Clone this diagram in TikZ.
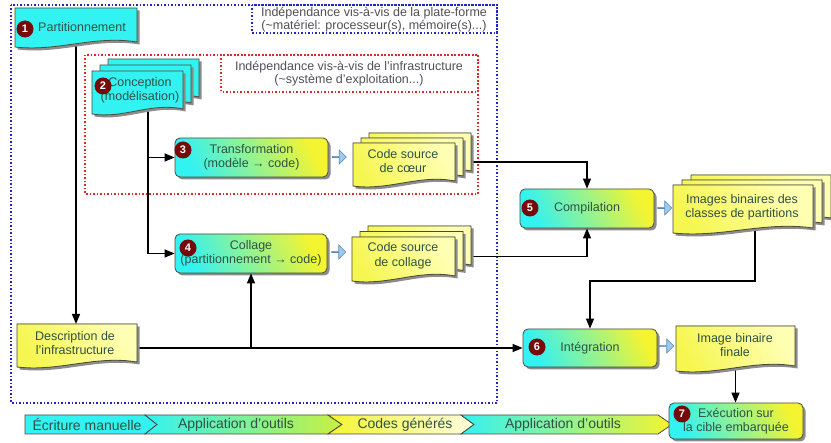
\documentclass[tikz,border=0pt]{standalone}
\usepackage{fontspec}
\setmainfont{Liberation Sans}
\usetikzlibrary{arrows.meta,shapes.arrows,shadows}
\pgfdeclarelayer{paper}
\pgfdeclarelayer{bg}
\pgfsetlayers{paper,bg,main}

\definecolor{cyanf}{HTML}{33F2F2}
\definecolor{greenf}{HTML}{80F070}
\definecolor{yellowf}{HTML}{F4F430}
\definecolor{docy}{HTML}{F6F650}
\definecolor{docyl}{HTML}{FFFFB4}
\definecolor{edge}{HTML}{4A4A38}
\definecolor{txtc}{HTML}{2F5244}
\definecolor{lblc}{HTML}{505058}
\definecolor{badgec}{HTML}{760A0A}
\definecolor{fatf}{HTML}{9CCBF0}
\definecolor{fatd}{HTML}{5C88B0}
\definecolor{frameb}{HTML}{2424C8}
\definecolor{framer}{HTML}{E02828}
\definecolor{cream}{HTML}{FFFFE0}
\definecolor{bandg}{HTML}{C8F040}

% outline of a document sheet: top-left (x1,y1), right edge x2, lowest point of the wavy bottom yb
\newcommand\docp[4]{(#1,#2) -- (#3,#2) -- (#3,#4-6) .. controls ({#1+0.65*(#3-#1)},#4-13) and ({#1+0.35*(#3-#1)},#4+4) .. (#1,#4-1) -- cycle}

% one sheet with its shadow
\newcommand\docpage[5]{%
  \fill[black!45,shift={(2.5,2.5)}] \docp{#1}{#2}{#3}{#4};
  \filldraw[docline,#5] \docp{#1}{#2}{#3}{#4};}

% single document: name, x1, y1, x2, yb, style
\newcommand\doc[6]{%
  \docpage{#2}{#3}{#4}{#5}{#6}
  \node[box,minimum width={#4-#2},minimum height={#5-6-#3}] (#1) at ({(#2+#4)/2},{(#3+#5-6)/2}) {};}

% stack of three documents: name, x1, y1, x2, yb, dx, dy, style
\newcommand\mdoc[8]{%
  \begin{scope}[shift={(2*#6,2*#7)}]\docpage{#2}{#3}{#4}{#5}{#8}\end{scope}
  \begin{scope}[shift={(#6,#7)}]\docpage{#2}{#3}{#4}{#5}{#8}\end{scope}
  \doc{#1}{#2}{#3}{#4}{#5}{#8}}

\tikzset{
  docline/.style={draw=edge,line width=0.8pt},
  box/.style={inner sep=0,outer sep=0},
  cyandoc/.style={fill=cyanf},
  yeldoc/.style={left color=docy,right color=docyl,shading angle=120},
  proc/.style={rounded corners=5pt,draw=edge,line width=0.8pt,
    left color=cyanf,middle color=greenf,right color=yellowf,shading angle=115,
    drop shadow={shadow xshift=2.5pt,shadow yshift=-2.5pt,fill=black,opacity=0.45},
    inner sep=0,align=center,text=txtc,font=\fontsize{12.5}{14}\selectfont},
  txt/.style={font=\fontsize{12.5}{14.5}\selectfont,text=txtc,align=center,inner sep=0},
  lbl/.style={font=\fontsize{12.5}{13.5}\selectfont,text=lblc,align=center,inner sep=0},
  badge/.style={circle,fill=badgec,text=white,font=\fontsize{11}{11}\bfseries\selectfont,
    inner sep=0,minimum size=17pt},
  fat/.style={single arrow,fill=fatf,draw=fatd,line width=0.6pt,minimum height=14pt,
    minimum width=14pt,single arrow head extend=3.5pt,inner sep=0},
  arr/.style={draw=black,line width=1.3pt,-{Triangle[length=10pt,width=8pt]}},
  bframe/.style={draw=frameb,line width=1.5pt,dash pattern=on 1.5pt off 2pt},
  rframe/.style={draw=framer,line width=1.5pt,dash pattern=on 1.5pt off 2pt},
  band/.style={draw=edge,line width=0.8pt},
  bandtxt/.style={font=\fontsize{14}{14}\selectfont,text=txtc,inner sep=0},
}

\begin{document}
\begin{tikzpicture}[x=1pt,y=-1pt]
\begin{pgfonlayer}{paper}
  \fill[white] (0,0) rectangle (831,443);
\end{pgfonlayer}
\useasboundingbox (0,0) rectangle (831,443);

% ---- frames of the independence zones ----
\begin{pgfonlayer}{bg}
  \draw[bframe] (11,5) rectangle (497,403);
  \draw[bframe] (252,5) rectangle (497,33);
  \draw[rframe] (85,55) rectangle (478,194);
  \draw[rframe] (221,55) rectangle (478,92);
\end{pgfonlayer}
\node[lbl] (lab1) at (374,19.5) {Indépendance vis-à-vis de la plate-forme\\(\textasciitilde matériel: processeur(s), mémoire(s)...)};
\node[lbl] (lab2) at (349,73.5) {Indépendance vis-à-vis de l'infrastructure\\(\textasciitilde système d'exploitation...)};

% ---- documents ----
\doc{n1}{15}{8}{137}{48}{cyandoc}
\node[txt] (n1t) at (82,27) {Partitionnement};
\node[badge] (b1) at (25,29) {1};

\mdoc{n2}{92}{71}{183}{115}{8}{-6}{cyandoc}
\node[txt] (n2t) at (140,90.5) {Conception\\(modélisation)};
\node[badge] (b2) at (103,86) {2};

\mdoc{coeur}{353}{143}{455}{187}{8}{-5}{yeldoc}
\node[txt] (coeurt) at (403,161) {Code source\\de cœur};

\mdoc{collage}{352}{237}{455}{282}{8}{-5.5}{yeldoc}
\node[txt] (collaget) at (403,256) {Code source\\de collage};

\mdoc{imgs}{673}{185}{813}{234}{9}{-5}{yeldoc}
\node[txt] (imgst) at (742,207.5) {Images binaires des\\classes de partitions};

\doc{fin}{676}{326}{795}{372}{yeldoc}
\node[txt] (fint) at (735,345) {Image binaire\\finale};

\doc{desc}{17}{324}{137}{368}{yeldoc}
\node[txt] (desct) at (75,343) {Description de\\l'infrastructure};

% ---- processing steps ----
\node[proc,minimum width=153,minimum height=39] (n3) at (251.5,157.5) {Transformation\\(modèle → code)};
\node[badge] (b3) at (183,150) {3};

\node[proc,minimum width=152,minimum height=39] (n4) at (251,253.5) {Collage\\(partitionnement → code)};
\node[badge] (b4) at (188,248) {4};

\node[proc,minimum width=134,minimum height=39] (n5) at (587,208.5) {Compilation};
\node[badge] (b5) at (530,208) {5};

\node[proc,minimum width=134,minimum height=38] (n6) at (590,348) {Intégration};
\node[badge] (b6) at (537,347) {6};

% ---- output arrows ----
\node[fat] (a3) at (339,157) {};
\node[fat] (a4) at (338.5,252) {};
\node[fat] (a5) at (664.5,208) {};
\node[fat] (a6) at (666.5,346) {};

% ---- connectors ----
\begin{pgfonlayer}{bg}
  \draw[arr] (n1.south) -- (n1.south |- desc.north);
  \draw[arr] ([xshift=10.5pt]n2.south) |- (n4.west);
  \draw[arr] ([xshift=10.5pt]n2.south |- n3.west) -- (n3.west);
  \draw[arr] (coeur.east) -| (n5.north);
  \draw[arr] (collage.east) -| (n5.south);
  \draw[arr] ([xshift=12pt]imgs.south) -- ++(0,53) -| (n6.north);
  \draw[arr] (desc.east |- n6.west) -- (n6.west);
  \draw[arr] (n4.south |- n6.west) -- (n4.south);
\end{pgfonlayer}

% ---- bottom band of phases ----
\shade[band,left color=cyanf,right color=cyanf]
  (25,415) -- (145,415) -- (157,424.5) -- (145,434) -- (25,434) -- cycle;
\shade[band,left color=cyanf,middle color=greenf,right color=bandg]
  (145,415) -- (328,415) -- (342,424.5) -- (328,434) -- (145,434) -- (157,424.5) -- cycle;
\shade[band,left color=yellowf,right color=cream]
  (328,415) -- (461,415) -- (474,424.5) -- (461,434) -- (328,434) -- (342,424.5) -- cycle;
\shade[band,left color=cyanf,middle color=greenf,right color=yellowf]
  (461,415) -- (658,415) -- (672,424.5) -- (658,434) -- (461,434) -- (474,424.5) -- cycle;
\node[bandtxt] (p1) at (87,424.5) {Écriture manuelle};
\node[bandtxt] (p2) at (236,424.5) {Application d'outils};
\node[bandtxt] (p3) at (405,424.5) {Codes générés};
\node[bandtxt] (p4) at (563,424.5) {Application d'outils};

% ---- execution ----
\node[proc,minimum width=134,minimum height=36] (n7) at (736,421) {Exécution sur\\la cible embarquée};
\node[badge] (b7) at (682,414) {7};
\begin{pgfonlayer}{bg}
  \draw[arr] (fin.south) -- (fin.south |- n7.north);
\end{pgfonlayer}
\end{tikzpicture}
\end{document}
